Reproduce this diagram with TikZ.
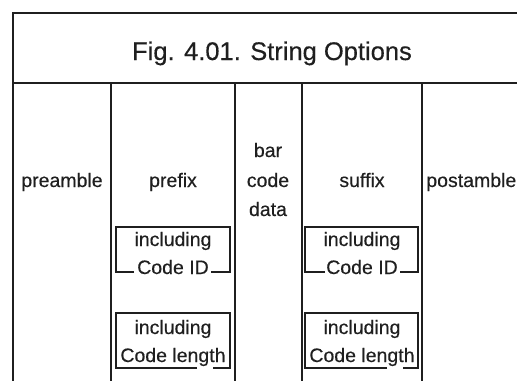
\documentclass[tikz,border=0pt]{standalone}
\usepackage{fontspec}
\setmainfont{Liberation Sans}[UprightFeatures={FakeBold=0.35}]
\begin{document}
\begin{tikzpicture}[x=1pt,y=-1pt,
  lbl/.style={font=\fontsize{19.5}{22}\selectfont, text=black!88, inner sep=0pt, anchor=base},
  ttl/.style={font=\fontsize{25.5}{28}\selectfont, text=black!88, inner sep=0pt, anchor=base},
  rule/.style={draw=black!88, line width=1.1pt},
  boxline/.style={draw=black!88, line width=1.4pt}]
\useasboundingbox (0,0) rectangle (517,381);
% frame
\draw[rule, line width=1.7pt] (12,13) -- (517,13);
\draw[rule, line width=1.4pt] (12,83) -- (517,83);
\draw[rule, line width=2.6pt] (13,12) -- (13,381);
\draw[rule] (111,83) -- (111,381);
\draw[rule] (235,83) -- (235,381);
\draw[rule] (302,83) -- (302,381);
\draw[rule] (422,83) -- (422,381);
% title
\node[ttl] (title) at (272,60) {Fig. 4.01. String Options};
% column headings
\node[lbl] (pre) at (62,187) {preamble};
\node[lbl] (prefix) at (173,187) {prefix};
\node[lbl] (bar) at (268,157) {bar};
\node[lbl] (code) at (268,187) {code};
\node[lbl] (data) at (268,216) {data};
\node[lbl] (suffix) at (362,187) {suffix};
\node[lbl, anchor=base east] (post) at (516.5,187) {postamble};
% prefix boxes
\draw[boxline] (134,272) -- (116,272) -- (116,227) -- (230,227) -- (230,272) -- (211,272);
\node[lbl] (pi1) at (173,246) {including};
\node[lbl] (pc1) at (173,274) {Code ID};
\draw[boxline] (197,368) -- (116,368) -- (116,313) -- (230,313) -- (230,368) -- (213,368);
\node[lbl] (pi2) at (173,334) {including};
\node[lbl] (pc2) at (173,362) {Code length};
% suffix boxes
\draw[boxline] (325,272) -- (305,272) -- (305,227) -- (418,227) -- (418,272) -- (400,272);
\node[lbl] (si1) at (362,246) {including};
\node[lbl] (sc1) at (362,274) {Code ID};
\draw[boxline] (387,368) -- (305,368) -- (305,313) -- (418,313) -- (418,368) -- (403,368);
\node[lbl] (si2) at (362,334) {including};
\node[lbl] (sc2) at (362,362) {Code length};
\end{tikzpicture}
\end{document}
